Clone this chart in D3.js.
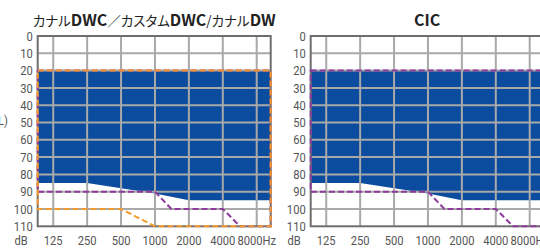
<!DOCTYPE html>
<html>
<head>
<meta charset="utf-8">
<script src="https://cdn.jsdelivr.net/npm/d3@7"></script>
<style>
  body { margin: 0; background: #fff; }
  .title { font-feature-settings: "palt"; }
</style>
</head>
<body>
<div id="graphic"></div>
<script>
const titles = ["カナルDWC／カスタムDWC/カナルDW", "CIC"];
const freqs = [125, 250, 500, 1000, 2000, 4000, 8000];
const freqLabels = ["125", "250", "500", "1000", "2000", "4000", "8000Hz"];
const dbTicks = [0, 10, 20, 30, 40, 50, 60, 70, 80, 90, 100, 110];

// blue fitting area: top at 20 dB, bottom edge below
const areaTop = 20;
const areaFreq = [250, 500, 1000, 2000];
const areaBottom = [85, 88, 91, 95];

// purple (both panels) and orange (left panel only) dashed ranges
const purpleFreq = [1000, 1400, 4000, 5700];
const purpleDb = [90, 100, 100, 110];
const orangeFreq = [500, 1000];
const orangeDb = [100, 110];

const width = 540, height = 249;
const panelW = 233, panelTop = 36, panelBottom = 226.3;
const panelLeft = [37.7, 310.7];

const blue = "#0b4c9f", purple = "#8e3b9b", orange = "#f59a2e";
const gridColor = "#a9a9a9", frameColor = "#6e6e6e", labelColor = "#555";
const labelFont = "Roboto, sans-serif";
const squeeze = 0.86; // labels are a narrow face

const svg = d3.select("#graphic")
  .append("svg")
  .attr("width", width)
  .attr("height", height);

const y = d3.scaleLinear()
  .domain([0, 110])
  .range([panelTop, panelBottom]);

// cut-off axis label at the far left
svg.append("text")
  .attr("transform", `translate(8,125) scale(${squeeze},1)`)
  .attr("text-anchor", "end")
  .attr("font-family", labelFont)
  .attr("font-size", 13)
  .attr("fill", labelColor)
  .text("(dB HL)");

function dashedRange(x, fr, db) {
  const [x0, x1] = x.domain();
  const pts = [[x0, areaTop], [x1, areaTop], [x1, db[db.length - 1]]];
  for (let i = fr.length - 1; i >= 0; i--) pts.push([fr[i], db[i]]);
  pts.push([x0, db[0]]);
  return d3.line().x(d => x(d[0])).y(d => y(d[1]))(pts) + "Z";
}

panelLeft.forEach((left, p) => {
  const x = d3.scaleLog()
    .domain([91, 10650])
    .range([left, left + panelW]);
  const [x0, x1] = x.domain();
  const g = svg.append("g");

  // blue area
  const top = [[x0, areaTop], [x1, areaTop]];
  const bottom = [[x1, areaBottom[areaBottom.length - 1]]];
  for (let i = areaFreq.length - 1; i >= 0; i--) bottom.push([areaFreq[i], areaBottom[i]]);
  bottom.push([x0, areaBottom[0]]);
  g.append("path")
    .attr("fill", blue)
    .attr("d", d3.line().x(d => x(d[0])).y(d => y(d[1]))(top.concat(bottom)) + "Z");

  // grid
  g.append("g")
    .selectAll("line")
    .data(dbTicks.slice(1, -1))
    .join("line")
      .attr("x1", left).attr("x2", left + panelW)
      .attr("y1", d => y(d)).attr("y2", d => y(d))
      .attr("stroke", gridColor)
      .attr("stroke-width", 2);
  g.append("g")
    .selectAll("line")
    .data(freqs)
    .join("line")
      .attr("x1", d => x(d)).attr("x2", d => x(d))
      .attr("y1", panelTop).attr("y2", panelBottom)
      .attr("stroke", gridColor)
      .attr("stroke-width", 2);

  // frame
  g.append("rect")
    .attr("x", left).attr("y", panelTop)
    .attr("width", panelW).attr("height", panelBottom - panelTop)
    .attr("fill", "none")
    .attr("stroke", frameColor)
    .attr("stroke-width", 2);

  // dashed ranges
  g.append("path")
    .attr("d", dashedRange(x, purpleFreq, purpleDb))
    .attr("fill", "none")
    .attr("stroke", purple)
    .attr("stroke-width", 2)
    .attr("stroke-dasharray", "6,3");
  if (p == 0) {
    g.append("path")
      .attr("d", dashedRange(x, orangeFreq, orangeDb))
      .attr("fill", "none")
      .attr("stroke", orange)
      .attr("stroke-width", 2)
      .attr("stroke-dasharray", "6,3");
  }

  // y labels
  g.append("g")
    .attr("font-family", labelFont)
    .attr("font-size", 13)
    .attr("fill", labelColor)
    .attr("text-anchor", "end")
    .selectAll("text")
    .data(dbTicks)
    .join("text")
      .attr("transform", d => `translate(${left - 5},${y(d)}) scale(${squeeze},1)`)
      .attr("dy", "0.36em")
      .text(d => d);

  // x labels
  const xl = g.append("g")
    .attr("font-family", labelFont)
    .attr("font-size", 13)
    .attr("fill", labelColor)
    .attr("text-anchor", "middle");
  xl.selectAll("text")
    .data(freqs)
    .join("text")
      .attr("transform", d => `translate(${x(d)},245) scale(${squeeze},1)`)
      .text((d, i) => freqLabels[i]);
  xl.append("text")
    .attr("transform", `translate(${left - 10},245) scale(${squeeze},1)`)
    .attr("text-anchor", "end")
    .text("dB");

  // title
  const t = g.append("text")
    .attr("class", "title")
    .attr("x", left + panelW / 2)
    .attr("y", 26)
    .attr("text-anchor", "middle")
    .attr("font-family", "Noto Sans CJK JP, sans-serif")
    .attr("fill", "#222");
  titles[p].split(/([A-Z]+)/).filter(s => s.length).forEach(s => {
    const latin = /[A-Z]/.test(s);
    t.append("tspan")
      .attr("font-weight", latin ? "bold" : "normal")
      .attr("font-size", latin ? 16 : 13.5)
      .text(s);
  });
});
</script>
</body>
</html>
